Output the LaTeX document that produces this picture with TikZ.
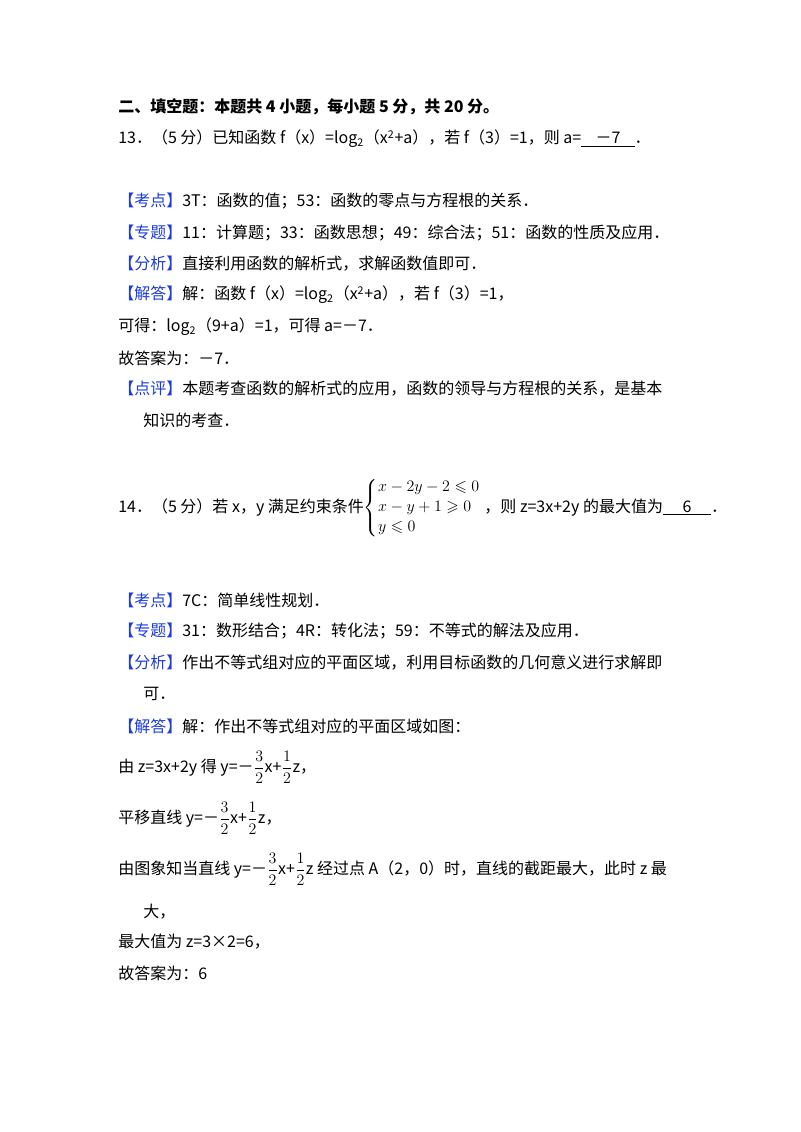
\documentclass[tikz,border=0pt]{standalone}
\usepackage{amsmath,amssymb}
\usepackage{fontspec}
\setmainfont{Noto Sans CJK SC}
\definecolor{kblue}{RGB}{30,60,220}
\newcommand{\kd}[1]{\textcolor{kblue}{【#1】}}
\newcommand{\fr}[2]{$\displaystyle\frac{#1}{#2}$}
\begin{document}
\begin{tikzpicture}[x=0.75pt,y=-0.75pt,
  every node/.style={anchor=west,inner sep=0pt,font=\fontsize{12pt}{14pt}\selectfont}]
\useasboundingbox (0,0) rectangle (800,1132);
\node (t0) at (118,107) {\bfseries 二、填空题：本题共 4 小题，每小题 5 分，共 20 分。};
\node (q13) at (118,139) {13．（5 分）已知函数 f（x）=log\textsubscript{2}（x\textsuperscript{2}+a），若 f（3）=1，则 a=\underline{\makebox[40pt]{－7}}．};
\node (l1) at (118,201) {\kd{考点}3T：函数的值；53：函数的零点与方程根的关系．};
\node (l2) at (118,233) {\kd{专题}11：计算题；33：函数思想；49：综合法；51：函数的性质及应用．};
\node (l3) at (118,264) {\kd{分析}直接利用函数的解析式，求解函数值即可．};
\node (l4) at (118,295) {\kd{解答}解：函数 f（x）=log\textsubscript{2}（x\textsuperscript{2}+a），若 f（3）=1，};
\node (l5) at (118,327) {可得：log\textsubscript{2}（9+a）=1，可得 a=－7．};
\node (l6) at (118,358) {故答案为：－7．};
\node (l7) at (118,389) {\kd{点评}本题考查函数的解析式的应用，函数的领导与方程根的关系，是基本};
\node (l8) at (143,420) {知识的考查．};
\node (q14) at (118,508) {14．（5 分）若 x，y 满足约束条件$\left\{\begin{array}{@{}l@{}}x-2y-2\leqslant 0\\[1pt] x-y+1\geqslant 0\\[1pt] y\leqslant 0\end{array}\right.$ ，则 z=3x+2y 的最大值为\underline{\makebox[36pt]{6}}．};
\node (m1) at (118,600) {\kd{考点}7C：简单线性规划．};
\node (m2) at (118,631) {\kd{专题}31：数形结合；4R：转化法；59：不等式的解法及应用．};
\node (m3) at (118,663) {\kd{分析}作出不等式组对应的平面区域，利用目标函数的几何意义进行求解即};
\node (m4) at (143,694) {可．};
\node (m5) at (118,726) {\kd{解答}解：作出不等式组对应的平面区域如图：};
\node (m6) at (118,767) {由 z=3x+2y 得 y=－\fr32x+\fr12z，};
\node (m7) at (118,818) {平移直线 y=－\fr32x+\fr12z，};
\node (m8) at (118,869) {由图象知当直线 y=－\fr32x+\fr12z 经过点 A（2，0）时，直线的截距最大，此时 z 最};
\node (m9) at (143,912) {大，};
\node (m10) at (118,942) {最大值为 z=3×2=6，};
\node (m11) at (118,973) {故答案为：6};
\end{tikzpicture}
\end{document}
